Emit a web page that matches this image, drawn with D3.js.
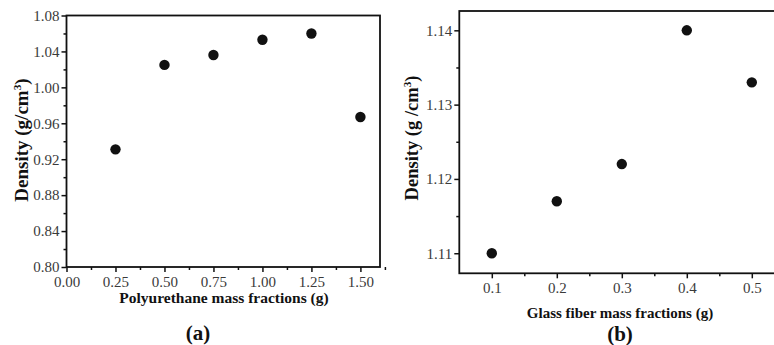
<!DOCTYPE html>
<html>
<head>
<meta charset="utf-8">
<script src="https://cdn.jsdelivr.net/npm/d3@7"></script>
<style>
  body { margin: 0; background: #fff; }
  svg text { font-family: "Liberation Serif", "Times New Roman", serif !important; }
  .tick text { fill: #3a3a3a; }
  .title { font-weight: bold; fill: #111; }
</style>
</head>
<body>
<svg id="chart" width="774" height="345"></svg>
<script>
// panel (a)
const puFractions = [0.25, 0.50, 0.75, 1.00, 1.25, 1.50];
const puDensity = [0.931, 1.025, 1.036, 1.053, 1.060, 0.967];
const puXTicks = [0, 0.25, 0.5, 0.75, 1.0, 1.25, 1.5];
const puYTicks = [0.80, 0.84, 0.88, 0.92, 0.96, 1.00, 1.04, 1.08];

// panel (b)
const gfFractions = [0.1, 0.2, 0.3, 0.4, 0.5];
const gfDensity = [1.110, 1.117, 1.122, 1.140, 1.133];
const gfXTicks = [0.1, 0.2, 0.3, 0.4, 0.5];
const gfYTicks = [1.11, 1.12, 1.13, 1.14];

const svg = d3.select('#chart');

function drawPanel(cfg) {
  const x = d3.scaleLinear().domain(cfg.xDomain).range(cfg.xRange);
  const y = d3.scaleLinear().domain(cfg.yDomain).range(cfg.yRange);
  const g = svg.append('g');

  // minor ticks
  g.append('g')
    .attr('transform', `translate(0,${cfg.yRange[0]})`)
    .call(d3.axisBottom(x).tickValues(cfg.xMinor).tickSize(3).tickFormat(''))
    .call(s => s.select('.domain').remove());
  g.append('g')
    .attr('transform', `translate(${cfg.xRange[0]},0)`)
    .call(d3.axisLeft(y).tickValues(cfg.yMinor).tickSize(3).tickFormat(''))
    .call(s => s.select('.domain').remove());

  // major ticks
  const xa = g.append('g')
    .attr('transform', `translate(0,${cfg.yRange[0]})`)
    .call(d3.axisBottom(x).tickValues(cfg.xTicks).tickSize(5).tickPadding(4).tickFormat(cfg.xFmt));
  const ya = g.append('g')
    .attr('transform', `translate(${cfg.xRange[0]},0)`)
    .call(d3.axisLeft(y).tickValues(cfg.yTicks).tickSize(5).tickPadding(2).tickFormat(cfg.yFmt));
  [xa, ya].forEach(a => {
    a.select('.domain').remove();
    a.attr('font-size', cfg.tickSize);
    a.selectAll('text').attr('font-size', cfg.tickSize);
  });
  g.selectAll('.tick line').attr('stroke', '#111').attr('stroke-width', 1.5);

  // frame
  g.append('rect')
    .attr('x', cfg.xRange[0]).attr('y', cfg.yRange[1])
    .attr('width', cfg.xRange[1] - cfg.xRange[0])
    .attr('height', cfg.yRange[0] - cfg.yRange[1])
    .attr('fill', 'none').attr('stroke', '#111').attr('stroke-width', 1.8);

  // points
  g.selectAll('circle.pt')
    .data(cfg.xs.map((v, i) => [v, cfg.ys[i]]))
    .join('circle')
    .attr('class', 'pt')
    .attr('cx', d => x(d[0]))
    .attr('cy', d => y(d[1]))
    .attr('r', 5.2)
    .attr('fill', '#111');

  // x title
  g.append('text')
    .attr('class', 'title')
    .attr('x', cfg.xTitlePos[0]).attr('y', cfg.xTitlePos[1])
    .attr('text-anchor', 'middle')
    .attr('font-size', cfg.titleSize)
    .text(cfg.xTitle);

  // y title with superscript
  const yt = g.append('text')
    .attr('class', 'title')
    .attr('transform', `translate(${cfg.yTitlePos[0]},${cfg.yTitlePos[1]}) rotate(-90)`)
    .attr('text-anchor', 'middle')
    .attr('font-size', cfg.yTitleSize);
  yt.append('tspan').text(cfg.yTitle[0]);
  yt.append('tspan').attr('font-size', cfg.yTitleSize * 0.6).attr('dy', -7).text('3');
  yt.append('tspan').attr('dy', 7).text(')');

  // panel label
  g.append('text')
    .attr('class', 'title')
    .attr('x', cfg.labelPos[0]).attr('y', cfg.labelPos[1])
    .attr('text-anchor', 'middle')
    .attr('font-size', 21)
    .text(cfg.label);
}

drawPanel({
  xs: puFractions, ys: puDensity,
  xDomain: [0, 1.6], xRange: [66.5, 380],
  yDomain: [0.8, 1.08], yRange: [267, 15.5],
  xTicks: puXTicks, yTicks: puYTicks,
  xMinor: puXTicks.map(v => v + 0.125),
  yMinor: puYTicks.slice(0, -1).map(v => v + 0.02),
  xFmt: d3.format('.2f'), yFmt: d3.format('.2f'),
  xTitle: 'Polyurethane mass fractions (g)',
  yTitle: ['Density (g/cm'],
  tickSize: 15, titleSize: 15.5, yTitleSize: 19,
  xTitlePos: [224, 303], yTitlePos: [28, 140],
  label: '(a)', labelPos: [198, 340]
});

drawPanel({
  xs: gfFractions, ys: gfDensity,
  xDomain: [0.05, 0.55], xRange: [459.3, 784.3],
  yDomain: [1.1073, 1.1426], yRange: [273.3, 11],
  xTicks: gfXTicks, yTicks: gfYTicks,
  xMinor: gfXTicks.map(v => v + 0.05),
  yMinor: gfYTicks.slice(0, -1).map(v => v + 0.005),
  xFmt: d3.format('.1f'), yFmt: d3.format('.2f'),
  xTitle: 'Glass fiber mass fractions (g)',
  yTitle: ['Density (g /cm'],
  tickSize: 15, titleSize: 15, yTitleSize: 18.5,
  xTitlePos: [620, 318], yTitlePos: [418, 138],
  label: '(b)', labelPos: [620, 341]
});
</script>
</body>
</html>
